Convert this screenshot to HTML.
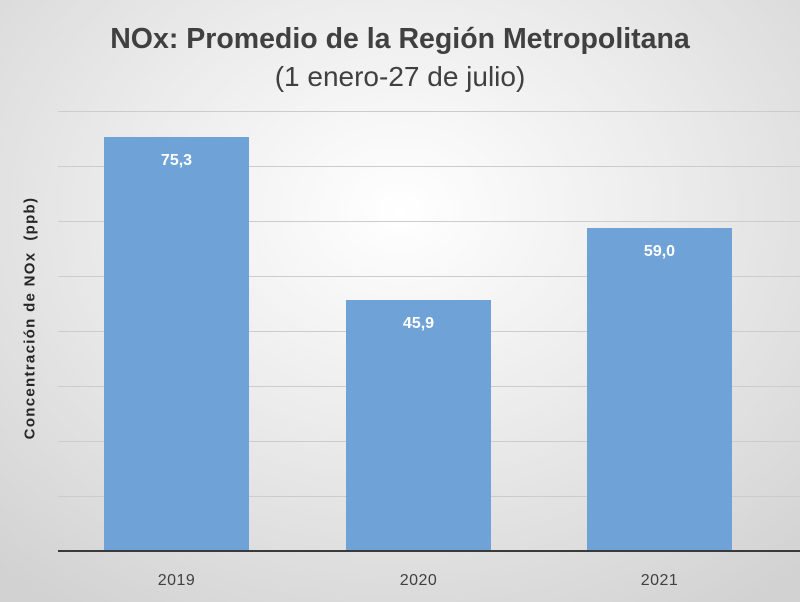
<!DOCTYPE html>
<html><head><meta charset="utf-8"><style>
html,body{margin:0;padding:0}
body{width:800px;height:602px;overflow:hidden;position:relative;font-family:"Liberation Sans",sans-serif;
background:radial-gradient(ellipse 75% 80% at 50% 35%,#ffffff 0%,#ececec 45%,#d2d2d2 100%);}
.t1{position:absolute;top:23px;left:0;width:800px;text-align:center;font-size:28.5px;font-weight:bold;color:#404040}
.t2{position:absolute;top:61px;left:0;width:800px;text-align:center;font-size:28px;color:#404040}
.g{position:absolute;left:58px;width:742px;height:1px;background:#cccccc}
.base{position:absolute;left:58px;width:742px;top:550px;height:2px;background:#3a3a3a}
.bar{position:absolute;width:145px;background:#6fa3d8}
.v{position:absolute;width:145px;text-align:center;color:#fff;font-weight:bold;font-size:16px}
.x{position:absolute;top:572px;width:145px;text-align:center;font-size:16px;color:#404040;letter-spacing:0.5px}
.y{position:absolute;left:30px;top:318px;transform:translate(-50%,-50%) rotate(-90deg);white-space:nowrap;font-size:15px;font-weight:bold;color:#262626;letter-spacing:1.3px}
</style></head><body>
<div class="t1">NOx: Promedio de la Región Metropolitana</div>
<div class="t2">(1 enero-27 de julio)</div>
<div class="g" style="top:111px"></div><div class="g" style="top:166px"></div>
<div class="g" style="top:221px"></div><div class="g" style="top:276px"></div>
<div class="g" style="top:331px"></div><div class="g" style="top:386px"></div>
<div class="g" style="top:441px"></div><div class="g" style="top:496px"></div>
<div class="bar" style="left:104px;top:137px;height:414px"></div>
<div class="bar" style="left:346px;top:300px;height:251px"></div>
<div class="bar" style="left:587px;top:228px;height:323px"></div>
<div class="v" style="left:104px;top:152px">75,3</div>
<div class="v" style="left:346px;top:315px">45,9</div>
<div class="v" style="left:587px;top:243px">59,0</div>
<div class="base"></div>
<div class="x" style="left:104px">2019</div>
<div class="x" style="left:346px">2020</div>
<div class="x" style="left:587px">2021</div>
<div class="y">Concentración de NOx&nbsp; (ppb)</div>
</body></html>
